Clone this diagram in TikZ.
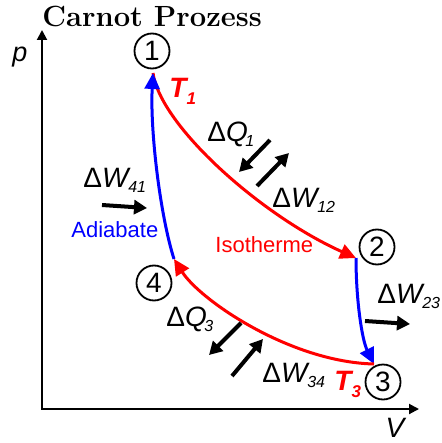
\documentclass[tikz,border=0pt]{standalone}
\usepackage{fontspec}
\newfontfamily\arial{Liberation Sans}
\usetikzlibrary{arrows.meta}
\newcommand\dlt[2]{{\arial Δ\textit{#1}\kern-1.2pt\raisebox{-2.5pt}{\fontsize{8}{8}\selectfont\textit{#2}}}}
\newcommand\tsub[2]{{\arial\bfseries\itshape #1\raisebox{-3.5pt}{\fontsize{8.5}{8.5}\selectfont #2}}}
\begin{document}
\begin{tikzpicture}[x=0.5pt,y=-0.5pt,
  axis/.style={line width=1pt,line join=miter,{Triangle[length=5pt,width=5pt]}-{Triangle[length=5pt,width=5pt]}},
  st/.style={circle,draw,line width=0.9pt,minimum size=17.5pt,inner sep=0pt,font=\arial\fontsize{14}{14}\selectfont},
  iso/.style={draw=red,line width=1.5pt,-{Triangle[length=8pt,width=7.5pt]},red},
  adi/.style={draw=blue,line width=1.5pt,-{Triangle[length=8pt,width=7.5pt]},blue},
  flow/.style={line width=2pt,-{Triangle[length=6.5pt,width=7pt]}},
  lab/.style={anchor=base west,inner sep=0pt,font=\fontsize{14}{14}\selectfont},
  small/.style={anchor=base west,inner sep=0pt,font=\arial\fontsize{11}{11}\selectfont}]
\useasboundingbox (0,0) rectangle (441,443);
% axes
\coordinate (O) at (42,409);
\coordinate (ytip) at (42,30);
\coordinate (xtip) at (419,409);
\draw[axis] (ytip) -- (O) -- (xtip);
\node[anchor=base west,inner sep=0pt,font=\fontsize{14.6}{14.6}\selectfont\bfseries] (title) at (42,27) {Carnot Prozess};
\node[inner sep=0pt,font=\arial\fontsize{13.5}{13.5}\selectfont\itshape] (p) at (20,57) {p};
\node[inner sep=0pt,font=\arial\fontsize{14}{14}\selectfont\itshape] (V) at (395,428) {V};
% states
\node[st] (n1) at (152,51) {1};
\node[st] (n2) at (377,247) {2};
\node[st] (n3) at (383,382) {3};
\node[st] (n4) at (154,283) {4};
% cycle
\coordinate (P1) at (153,73);
\coordinate (P2) at (356,258);
\coordinate (P3) at (374,364);
\coordinate (P4) at (174,259);
\draw[iso] (P1) .. controls (160,125) and (260,215) .. (P2);
\draw[adi] (P2) .. controls (356,300) and (362,340) .. (P3);
\draw[iso] (P3) .. controls (290,362) and (200,300) .. (P4);
\draw[adi] (P4) .. controls (160,215) and (150,130) .. (P1);
% temperatures
\node[lab,text=red] (T1) at (169,98) {\tsub{T}{1}};
\node[lab,text=red] (T3) at (334,390) {\tsub{T}{3}};
% energy arrows
\coordinate (q1a) at (270,140); \coordinate (q1b) at (239,172);
\coordinate (w12a) at (257,186); \coordinate (w12b) at (289,153);
\coordinate (w41a) at (102,205); \coordinate (w41b) at (147,208);
\coordinate (w23a) at (365,321); \coordinate (w23b) at (410,324);
\coordinate (q3a) at (241,323); \coordinate (q3b) at (209,355);
\coordinate (w34a) at (232,376); \coordinate (w34b) at (263,339);
\draw[flow] (q1a) -- (q1b);
\draw[flow] (w12a) -- (w12b);
\draw[flow] (w41a) -- (w41b);
\draw[flow] (w23a) -- (w23b);
\draw[flow] (q3a) -- (q3b);
\draw[flow] (w34a) -- (w34b);
% labels
\node[lab] (lq1) at (207,141) {\dlt{Q}{1}};
\node[lab] (lw12) at (272,207) {\dlt{W}{12}};
\node[lab] (lw41) at (83,187) {\dlt{W}{41}};
\node[lab] (lw23) at (377,303) {\dlt{W}{23}};
\node[lab] (lq3) at (166,326) {\dlt{Q}{3}};
\node[lab] (lw34) at (262,382) {\dlt{W}{34}};
\node[small,text=red] (iso) at (215,252) {Isotherme};
\node[small,text=blue] (adi) at (71,237) {Adiabate};
\end{tikzpicture}
\end{document}
